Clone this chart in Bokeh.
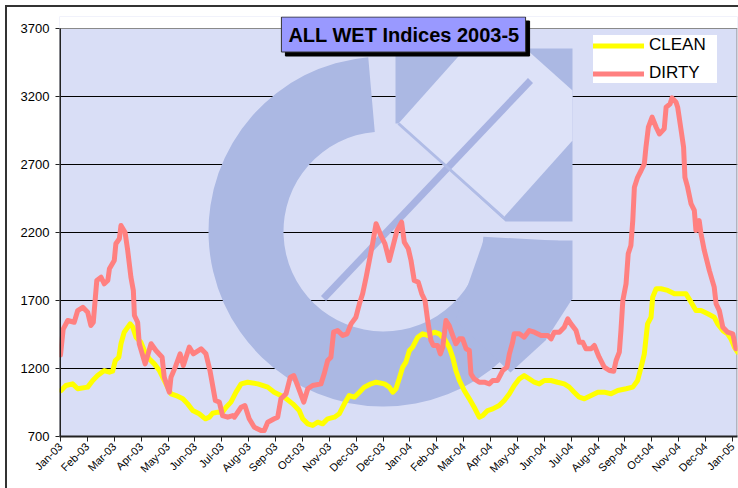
import math
from bokeh.plotting import figure
from bokeh.models import (Range1d, FixedTicker, Legend, LegendItem, Label)
from bokeh.embed import file_html
from bokeh.resources import INLINE

# ---------------- data (x = position on the category axis, one unit per tick) -------------
tick_labels = ["Jan-03", "Feb-03", "Mar-03", "Apr-03", "May-03", "Jun-03", "Jul-03", "Aug-03",
               "Sep-03", "Oct-03", "Nov-03", "Dec-03", "Dec-03", "Jan-04", "Feb-04", "Mar-04",
               "Apr-04", "May-04", "Jun-04", "Jul-04", "Aug-04", "Sep-04", "Oct-04", "Nov-04",
               "Dec-04", "Jan-05"]
y_ticks = [700, 1200, 1700, 2200, 2700, 3200, 3700]

clean_x = [0.02, 0.20, 0.45, 0.64, 1.01, 1.20, 1.38, 1.63, 1.82, 1.94,
           2.04, 2.17, 2.25, 2.37, 2.59, 2.69, 2.81, 2.99, 3.12, 3.30,
           3.49, 3.68, 3.86, 4.11, 4.30, 4.55, 4.73, 4.92, 5.16, 5.39,
           5.54, 5.66, 5.85, 6.03, 6.16, 6.34, 6.53, 6.72, 6.96, 7.34,
           7.71, 7.95, 8.33, 8.64, 8.88, 9.01, 9.20, 9.38, 9.57, 9.75,
           9.94, 10.19, 10.37, 10.56, 10.74, 10.93, 11.12, 11.30, 11.55, 11.74,
           12.05, 12.23, 12.36, 12.48, 12.60, 12.73, 12.85, 12.98, 13.10, 13.29,
           13.47, 13.66, 13.91, 14.09, 14.28, 14.46, 14.59, 14.71, 14.84, 15.02,
           15.21, 15.39, 15.58, 15.71, 15.89, 16.08, 16.32, 16.51, 16.70, 16.88,
           17.07, 17.25, 17.44, 17.63, 17.81, 18.00, 18.25, 18.49, 18.74, 18.93,
           19.11, 19.30, 19.49, 19.74, 19.99, 20.23, 20.48, 20.73, 21.04, 21.29,
           21.47, 21.60, 21.72, 21.84, 21.97, 22.03, 22.16, 22.34, 22.59, 22.84,
           23.09, 23.27, 23.46, 23.64, 23.83, 24.08, 24.32, 24.45, 24.64, 24.82,
           24.94, 25.07, 25.19]
clean_y = [1038, 1075, 1087, 1051, 1063, 1112, 1148, 1185, 1173, 1180,
           1259, 1283, 1382, 1467, 1528, 1504, 1430, 1393, 1332, 1271,
           1234, 1185, 1112, 1014, 1001, 977, 940, 891, 867, 830,
           842, 871, 879, 879, 915, 953, 1026, 1087, 1099, 1087,
           1063, 1026, 989, 940, 891, 830, 793, 781, 805, 793,
           830, 842, 867, 940, 1001, 989, 1026, 1063, 1087, 1099,
           1087, 1063, 1026, 1051, 1124, 1210, 1247, 1332, 1357, 1430,
           1455, 1443, 1467, 1455, 1418, 1357, 1283, 1185, 1112, 1038,
           977, 915, 842, 854, 891, 903, 928, 965, 1014, 1075,
           1124, 1148, 1124, 1099, 1087, 1112, 1112, 1099, 1087, 1063,
           1026, 989, 977, 1001, 1026, 1026, 1014, 1038, 1051, 1063,
           1112, 1210, 1308, 1528, 1577, 1724, 1786, 1786, 1774, 1749,
           1749, 1749, 1688, 1626, 1626, 1602, 1577, 1528, 1479, 1455,
           1418, 1357, 1320]

dirty_x = [0.0, 0.10, 0.27, 0.51, 0.64, 0.83, 1.01, 1.13, 1.22, 1.35,
           1.51, 1.63, 1.76, 1.82, 2.00, 2.06, 2.19, 2.25, 2.40, 2.50,
           2.62, 2.71, 2.75, 2.87, 2.93, 3.15, 3.37, 3.55, 3.78, 3.86,
           4.05, 4.11, 4.27, 4.45, 4.57, 4.79, 4.94, 5.23, 5.41, 5.56,
           5.76, 5.91, 6.03, 6.22, 6.41, 6.47, 6.72, 6.86, 7.02, 7.21,
           7.46, 7.58, 7.71, 7.95, 8.08, 8.20, 8.39, 8.55, 8.68, 8.82,
           9.05, 9.20, 9.38, 9.69, 9.81, 9.94, 10.06, 10.16, 10.31, 10.50,
           10.66, 10.81, 10.99, 11.12, 11.24, 11.37, 11.49, 11.61, 11.74, 11.92,
           12.07, 12.23, 12.36, 12.52, 12.69, 12.79, 12.94, 13.04, 13.16, 13.31,
           13.44, 13.56, 13.66, 13.78, 13.87, 14.03, 14.13, 14.22, 14.34, 14.46,
           14.59, 14.71, 14.84, 14.96, 15.09, 15.21, 15.27, 15.39, 15.58, 15.77,
           15.95, 16.08, 16.26, 16.45, 16.61, 16.70, 16.82, 16.88, 17.07, 17.25,
           17.44, 17.63, 17.88, 18.13, 18.25, 18.37, 18.56, 18.74, 18.87, 18.99,
           19.18, 19.30, 19.43, 19.55, 19.74, 19.86, 20.04, 20.23, 20.42, 20.58,
           20.67, 20.79, 20.85, 20.92, 21.04, 21.12, 21.22, 21.29, 21.35, 21.47,
           21.60, 21.72, 21.78, 21.87, 22.01, 22.16, 22.28, 22.46, 22.53, 22.68,
           22.75, 22.90, 22.96, 23.09, 23.18, 23.23, 23.33, 23.46, 23.58, 23.64,
           23.76, 23.83, 23.95, 24.14, 24.32, 24.39, 24.51, 24.64, 24.82, 25.01,
           25.13]
dirty_y = [1300, 1490, 1553, 1540, 1626, 1650, 1614, 1516, 1540, 1847,
           1871, 1823, 1847, 1933, 1994, 2117, 2154, 2251, 2202, 2068,
           1871, 1774, 1590, 1540, 1382, 1234, 1382, 1332, 1283, 1136,
           1026, 1136, 1210, 1308, 1222, 1357, 1308, 1345, 1308, 1185,
           965, 953, 854, 842, 854, 842, 915, 928, 830, 768,
           744, 744, 805, 830, 842, 977, 1014, 1136, 1148, 1075,
           953, 1051, 1075, 1087, 1161, 1259, 1283, 1467, 1479, 1443,
           1455, 1528, 1577, 1676, 1749, 1871, 1994, 2117, 2264, 2178,
           2117, 1994, 2092, 2215, 2276, 2129, 2080, 1994, 1847, 1835,
           1749, 1700, 1553, 1406, 1369, 1369, 1308, 1357, 1553, 1516,
           1443, 1382, 1418, 1418, 1345, 1332, 1161, 1124, 1099, 1099,
           1087, 1112, 1112, 1185, 1210, 1308, 1393, 1455, 1455, 1430,
           1479, 1467, 1443, 1443, 1418, 1467, 1467, 1504, 1565, 1528,
           1479, 1393, 1393, 1345, 1345, 1369, 1283, 1210, 1185, 1180,
           1259, 1320, 1479, 1700, 1823, 2043, 2104, 2288, 2533, 2606,
           2656, 2705, 2827, 2974, 3048, 2974, 2925, 2962, 3121, 3146,
           3190, 3158, 3121, 2950, 2827, 2606, 2533, 2410, 2362, 2215,
           2288, 2190, 2068, 1920, 1798, 1676, 1626, 1504, 1467, 1455,
           1345]

FONT = "Liberation Sans"

# ---------------- figure ----------------
W, H = 738, 488
PX_X = 26.88           # pixels per category tick
PX_Y = 0.136           # pixels per index unit
X0 = -1.0 / PX_X
X1 = X0 + 678 / PX_X
Y_TOP = 3700 + 12 / PX_Y   # frame extends 12px above the 3700 line (room for title box)
p = figure(width=W, height=H, output_backend="svg", toolbar_location=None,
           x_range=Range1d(X0, X1), y_range=Range1d(700, Y_TOP),
           min_border_left=59, min_border_right=1, min_border_top=16, min_border_bottom=52,
           background_fill_color="#D9DEF6", border_fill_color="white", border_fill_alpha=0,
           styles={"background": "linear-gradient(#333,#333) 5px 5px / 2px 100% no-repeat, "
                                 "linear-gradient(#333,#333) 5px 5px / 100% 2px no-repeat, #ffffff"})
p.outline_line_color = None

# ---- decorative background logo (positions given in screen pixels, converted to data) ----
def sx(px):
    return (px - 60.0) / PX_X

def sy(py):
    return 700 + (436.0 - py) / PX_Y

LOGO = "#ABB8E3"
LIGHT = "#DDE2F8"
p.annular_wedge(x=sx(383), y=sy(231), inner_radius=100, outer_radius=175,
                inner_radius_units="screen", outer_radius_units="screen",
                start_angle=math.radians(95), end_angle=math.radians(357),
                direction="anticlock", fill_color=LOGO, line_color=None)
ext = [(483, 240), (572, 240), (572, 298), (545, 340), (510, 372), (455, 320)]
p.patch([sx(a) for a, b in ext], [sy(b) for a, b in ext], fill_color=LOGO, line_color=None)
sq = [(395, 48), (572, 48), (572, 221), (505, 221), (398, 123), (395, 123)]
p.patch([sx(a) for a, b in sq], [sy(b) for a, b in sq], fill_color=LOGO, line_color=None)
dia = [(398, 123), (465, 48), (525, 48), (572, 90), (572, 140), (503, 217)]
p.patch([sx(a) for a, b in dia], [sy(b) for a, b in dia], fill_color=LIGHT, line_color=None)
p.line([sx(323), sx(530)], [sy(298), sy(80)], line_color="#A8B3E2", line_width=7)
p.line([sx(398), sx(503)], [sy(123), sy(217)], line_color="#B0BCE6", line_width=3)

# white strip above the plot area, and the plot-area border
p.quad(left=X0, right=X1, bottom=3700, top=Y_TOP, fill_color="white", line_color=None)
p.line([X0, X1], [3700, 3700], line_color="#8a8a8a", line_width=1)
p.line([X1 - 0.5 / PX_X] * 2, [700, 3700], line_color="#8a8a8a", line_width=1)

# ---------------- series ----------------
r_clean = p.line(clean_x, clean_y, line_color="#FFFF00", line_width=5,
                 line_join="round", line_cap="round")
r_dirty = p.line(dirty_x, dirty_y, line_color="#FF8080", line_width=5,
                 line_join="round", line_cap="round")

# y axis line (drawn as a line so it stops at 3700)
p.line([X0 + 0.5 / PX_X] * 2, [700, 3700], line_color="#222222", line_width=2)

# ---------------- axes ----------------
p.xaxis.ticker = FixedTicker(ticks=list(range(len(tick_labels))))
p.xaxis.major_label_overrides = {i: t for i, t in enumerate(tick_labels)}
p.xaxis.major_label_orientation = math.pi / 4
p.xaxis.major_label_text_font = FONT
p.xaxis.major_label_text_font_size = "11px"
p.xaxis.major_label_text_color = "black"
p.xaxis.major_label_standoff = 3
p.xaxis.axis_line_color = "#222222"
p.xaxis.axis_line_width = 2
p.xaxis.major_tick_line_color = "#222222"
p.xaxis.major_tick_out = 5
p.xaxis.major_tick_in = 0
p.xaxis.minor_tick_line_color = None

p.yaxis.ticker = FixedTicker(ticks=y_ticks)
p.yaxis.major_label_text_font = FONT
p.yaxis.major_label_text_font_size = "13px"
p.yaxis.major_label_text_color = "black"
p.yaxis.major_label_standoff = 6
p.yaxis.axis_line_color = None
p.yaxis.major_tick_line_color = "#222222"
p.yaxis.major_tick_out = 4
p.yaxis.major_tick_in = 0
p.yaxis.minor_tick_line_color = None

p.xgrid.visible = False
p.ygrid.ticker = FixedTicker(ticks=y_ticks[1:-1])
p.ygrid.grid_line_color = "black"
p.ygrid.grid_line_width = 1

# ---------------- legend ----------------
legend = Legend(items=[LegendItem(label="CLEAN", renderers=[r_clean]),
                       LegendItem(label="DIRTY", renderers=[r_dirty])],
                location=(534, 353), orientation="vertical",
                background_fill_color="white", background_fill_alpha=1.0,
                border_line_color=None, padding=4, spacing=8, margin=0,
                glyph_width=51, glyph_height=19, label_height=19, label_width=68,
                label_standoff=5, label_text_font=FONT, label_text_font_size="17px",
                label_text_color="black")
p.add_layout(legend)

# ---------------- title box with shadow ----------------
title_text = "ALL WET Indices 2003-5"
pad = (7, 6, 7, 6)
shadow = Label(x=sx(407), y=sy(38), text=title_text, text_align="center",
               text_baseline="middle", text_font=FONT, text_font_size="20px",
               text_font_style="bold", text_color="black",
               background_fill_color="black", border_line_color="black",
               padding=pad)
title = Label(x=sx(403), y=sy(34), text=title_text, text_align="center",
              text_baseline="middle", text_font=FONT, text_font_size="20px",
              text_font_style="bold", text_color="black",
              background_fill_color="#9999FF", border_line_color="#333333",
              border_line_width=1, padding=pad)
p.add_layout(shadow)
p.add_layout(title)

open("out.html", "w").write(file_html(p, INLINE))
